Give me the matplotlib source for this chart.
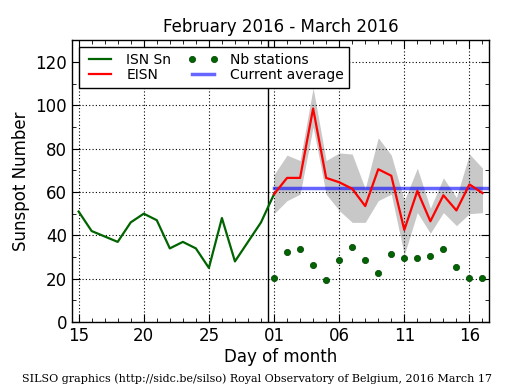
#sunspot_plot.py

"""Daily and estimated international sunspot number, Feb-Mar 2016."""

import numpy as np
import matplotlib
matplotlib.use('Agg')
import matplotlib.pyplot as plt
from matplotlib.ticker import MultipleLocator, FixedLocator

#day index: 0 = Feb 15, 15 = Mar 1 (2016 is a leap year)
tick_pos = [0, 5, 10, 15, 20, 25, 30]
tick_labels = ['15', '20', '25', '01', '06', '11', '16']

#ISN Sn, Feb 15 .. Mar 1
isn_days = list(range(0, 16))
isn_vals = [51, 42, 39.5, 37, 46, 50, 47, 34, 37, 34, 25, 48, 28, 37, 46, 59]

#EISN, Mar 1 .. Mar 17
eisn_days = list(range(15, 32))
eisn_vals = [59, 66.5, 66.5, 98.5, 66.5, 64.5, 61.5, 53.5, 70.5, 67.5,
             42.5, 60.5, 46.5, 58.5, 51.5, 63.5, 59.5]
eisn_upper = [68, 77, 74.5, 108, 74.5, 78, 77.5, 61.5, 85, 77,
              56, 71, 52.5, 66.5, 57.5, 77.5, 71]
eisn_lower = [50, 56, 59, 90, 59, 51.5, 46, 46, 56, 59,
              31, 50.5, 41, 50.5, 44.5, 50, 50.5]

#number of stations
nb_vals = [20.5, 32.5, 33.5, 26.5, 19.5, 28.5, 34.5, 28.5, 22.5, 31.5,
           29.5, 29.5, 30.5, 33.5, 25.5, 20.5, 20.5]

current_avg = 62

fig = plt.figure(figsize=(5.15, 3.9), dpi=100)
ax = fig.add_axes([0.140, 0.174, 0.8095, 0.723])

ax.fill_between(eisn_days, eisn_lower, eisn_upper, color='#c8c8c8',
                linewidth=0, zorder=1)
ax.plot(isn_days, isn_vals, color='#006400', lw=1.6, label='ISN Sn', zorder=3)
ax.plot(eisn_days, eisn_vals, color='red', lw=1.6, label='EISN', zorder=3)
ax.plot(eisn_days, nb_vals, 'o', color='#006400', ms=4.5, mec='#004000',
        mew=0.5, label='Nb stations', zorder=4)
ax.plot([15, 31.5], [current_avg, current_avg], color='blue', alpha=0.6,
        lw=2.5, label='Current average', zorder=2)
ax.axvline(14.5, color='black', lw=1, zorder=2)

ax.set_xlim(-0.5, 31.5)
ax.set_ylim(0, 130)

ax.xaxis.set_major_locator(FixedLocator(tick_pos))
ax.set_xticklabels(tick_labels)
ax.xaxis.set_minor_locator(MultipleLocator(1))
ax.yaxis.set_major_locator(MultipleLocator(20))
ax.yaxis.set_minor_locator(MultipleLocator(10))

ax.tick_params(which='both', direction='in', top=True, right=True,
               labelsize=12)
ax.tick_params(which='major', length=6)
ax.tick_params(which='minor', length=3)
ax.grid(True, which='major', color='black', linestyle=(0, (1, 2)), lw=0.8)

for sp in ax.spines.values():
    sp.set_linewidth(1)

ax.set_title('February 2016 - March 2016', fontsize=12)
ax.set_xlabel('Day of month', fontsize=12, labelpad=2)
ax.set_ylabel('Sunspot Number', fontsize=12)

leg = ax.legend(loc='upper left', ncol=2, numpoints=2, fontsize=10,
                fancybox=False, framealpha=1, edgecolor='black',
                handlelength=2.2, columnspacing=1.2, labelspacing=0.1,
                borderaxespad=0.5)
leg.get_frame().set_linewidth(1)

fig.text(0.5, 0.02, 'SILSO graphics (http://sidc.be/silso) Royal Observatory '
         'of Belgium, 2016 March 17', ha='center', fontsize=8,
         family='DejaVu Serif')

plt.savefig('out.png', dpi=100)
